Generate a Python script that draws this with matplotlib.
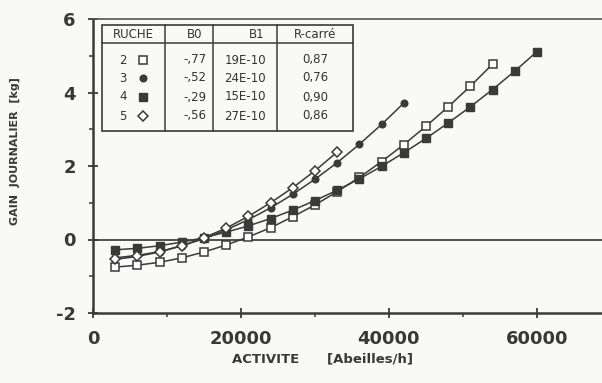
import matplotlib
matplotlib.use("Agg")
import matplotlib.pyplot as plt
from matplotlib.lines import Line2D

# ---- data ----
x2 = [3000, 6000, 9000, 12000, 15000, 18000, 21000, 24000, 27000, 30000,
      33000, 36000, 39000, 42000, 45000, 48000, 51000, 54000]
y2 = [-0.75, -0.70, -0.62, -0.50, -0.34, -0.15, 0.07, 0.32, 0.62, 0.94,
      1.30, 1.69, 2.12, 2.58, 3.08, 3.61, 4.17, 4.77]

x3 = [3000, 6000, 9000, 12000, 15000, 18000, 21000, 24000, 27000, 30000,
      33000, 36000, 39000, 42000]
y3 = [-0.50, -0.43, -0.33, -0.17, 0.02, 0.26, 0.54, 0.86, 1.23, 1.64,
      2.09, 2.59, 3.13, 3.71]

x4 = [3000, 6000, 9000, 12000, 15000, 18000, 21000, 24000, 27000, 30000,
      33000, 36000, 39000, 42000, 45000, 48000, 51000, 54000, 57000, 60000]
y4 = [-0.28, -0.24, -0.17, -0.07, 0.05, 0.20, 0.37, 0.57, 0.80, 1.06,
      1.34, 1.65, 1.99, 2.36, 2.75, 3.17, 3.61, 4.08, 4.58, 5.11]

x5 = [3000, 6000, 9000, 12000, 15000, 18000, 21000, 24000, 27000, 30000, 33000]
y5 = [-0.54, -0.46, -0.34, -0.17, 0.05, 0.31, 0.63, 1.00, 1.41, 1.87, 2.38]

ruches = ["2", "3", "4", "5"]
b0 = ["-,77", "-,52", "-,29", "-,56"]
b1 = ["19E-10", "24E-10", "15E-10", "27E-10"]
r2 = ["0,87", "0,76", "0,90", "0,86"]
headers = ["RUCHE", "B0", "B1", "R-carré"]

xticks = [0, 20000, 40000, 60000]
yticks = [-2, 0, 2, 4, 6]

# ---- style ----
INK = "#3a3a3a"
BG = "#f9f9f7"
W, H = 602, 383
L, R, T, B = 93, 602, 19, 313

fig = plt.figure(figsize=(W / 100, H / 100), dpi=100, facecolor=BG)
ax = fig.add_axes([L / W, (H - B) / H, (R - L) / W, (B - T) / H])
ax.set_facecolor(BG)

ax.set_xlim(0, 68800)
ax.set_ylim(-2, 6)

ax.axhline(0, color="#505050", lw=1.4, zorder=1)

styles = [
    (x2, y2, dict(marker="s", mfc="white", mec=INK, ms=5.8, mew=1.1)),
    (x3, y3, dict(marker="o", mfc=INK, mec=INK, ms=4.8, mew=1.0)),
    (x4, y4, dict(marker="s", mfc=INK, mec=INK, ms=5.8, mew=1.0)),
    (x5, y5, dict(marker="D", mfc="white", mec=INK, ms=5.5, mew=1.1)),
]
for xs, ys, st in styles:
    ax.plot(xs, ys, color=INK, lw=1.1, zorder=3, **st)

ax.spines["right"].set_visible(False)
for s in ["left", "bottom"]:
    ax.spines[s].set_linewidth(1.8)
    ax.spines[s].set_color(INK)
ax.spines["top"].set_linewidth(1.2)
ax.spines["top"].set_color("#555555")

ax.set_xticks(xticks)
ax.set_xticks([10000, 30000, 50000], minor=True)
ax.set_yticks(yticks)
ax.set_yticks([-1, 1, 3, 5], minor=True)
ax.set_xticklabels([str(v) for v in xticks])
ax.set_yticklabels([str(v) for v in yticks])
ax.tick_params(which="major", direction="inout", length=7, width=1.3, color=INK,
               labelsize=13, labelcolor="#383838", pad=9)
ax.tick_params(which="minor", direction="out", length=3, width=1.1, color=INK)
for lab in ax.get_xticklabels() + ax.get_yticklabels():
    lab.set_fontweight("bold")
    lab.set_family("DejaVu Sans")


def fx(px):
    return (px - L) / (R - L)


def fy(py):
    return (B - py) / (B - T)


ax.set_xlabel("ACTIVITE      [Abeilles/h]", fontsize=9.5, color="#383838",
              fontweight="bold")
ax.xaxis.set_label_coords(fx(322), fy(359))
ax.set_ylabel("GAIN  JOURNALIER  [kg]", fontsize=8, color="#383838",
              fontweight="bold")
ax.yaxis.set_label_coords(fx(15), fy(151))
ax.xaxis.label.set_va("center")
ax.yaxis.label.set_va("center")

# ---- table (legend) ----
tl, tr, tt, tb = 102, 353, 25, 131
hb = 43
cols = [165, 213, 277]
tk = dict(color=INK, lw=1.1, transform=ax.transAxes, zorder=5, clip_on=False)
ax.add_patch(plt.Rectangle((fx(tl), fy(tb)), fx(tr) - fx(tl), fy(tt) - fy(tb),
                           transform=ax.transAxes, facecolor=BG, edgecolor=INK,
                           lw=1.2, zorder=4))
ax.add_line(Line2D([fx(tl), fx(tr)], [fy(hb), fy(hb)], **tk))
for c in cols:
    ax.add_line(Line2D([fx(c), fx(c)], [fy(tt), fy(tb)], **tk))

txt = dict(transform=ax.transAxes, fontsize=8.5, color="#333333", va="center",
           zorder=6, family="DejaVu Sans")
hx = [133, 195, 257, 315]
for h, xx in zip(headers, hx):
    ax.text(fx(xx), fy(34), h, ha="center", **txt)

rows_y = [60, 78, 97, 116]
for i, yy in enumerate(rows_y):
    ax.text(fx(123), fy(yy), ruches[i], ha="center", **txt)
    m = dict(styles[i][2])
    ax.plot([fx(143)], [fy(yy)], transform=ax.transAxes, linestyle="none",
            zorder=6, clip_on=False, **m)
    ax.text(fx(206), fy(yy), b0[i], ha="right", **txt)
    ax.text(fx(245), fy(yy), b1[i], ha="center", **txt)
    ax.text(fx(315), fy(yy), r2[i], ha="center", **txt)

fig.savefig("out.png", dpi=100, facecolor=BG)
